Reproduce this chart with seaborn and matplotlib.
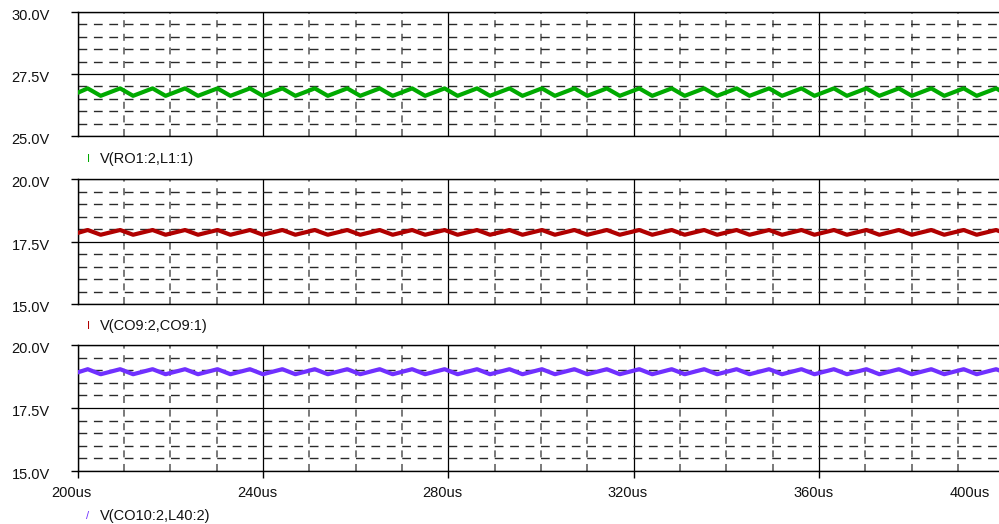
import matplotlib
matplotlib.use("Agg")
import matplotlib.pyplot as plt
import seaborn as sns
import pandas as pd
from matplotlib.ticker import MultipleLocator
from matplotlib.transforms import ScaledTranslation

# ---------------- data ----------------
time_us = [200.0, 202.2, 205.0, 209.2, 212.0, 216.2, 219.0, 223.2, 226.0, 230.2,
           233.0, 237.2, 240.0, 244.2, 247.0, 251.2, 254.0, 258.2, 261.0, 265.2,
           268.0, 272.2, 275.0, 279.2, 282.0, 286.2, 289.0, 293.2, 296.0, 300.2,
           303.0, 307.2, 310.0, 314.2, 317.0, 321.2, 324.0, 328.2, 331.0, 335.2,
           338.0, 342.2, 345.0, 349.2, 352.0, 356.2, 359.0, 363.2, 366.0, 370.2,
           373.0, 377.2, 380.0, 384.2, 387.0, 391.2, 394.0, 398.2, 401.0]

v_ro1 = [26.74, 26.92, 26.62, 26.92, 26.62, 26.92, 26.62, 26.92, 26.62, 26.92,
         26.62, 26.92, 26.62, 26.92, 26.62, 26.92, 26.62, 26.92, 26.62, 26.92,
         26.62, 26.92, 26.62, 26.92, 26.62, 26.92, 26.62, 26.92, 26.62, 26.92,
         26.62, 26.92, 26.62, 26.92, 26.62, 26.92, 26.62, 26.92, 26.62, 26.92,
         26.62, 26.92, 26.62, 26.92, 26.62, 26.92, 26.62, 26.92, 26.62, 26.92,
         26.62, 26.92, 26.62, 26.92, 26.62, 26.92, 26.62, 26.92, 26.62]

v_co9 = [17.84, 17.96, 17.77, 17.96, 17.77, 17.96, 17.77, 17.96, 17.77, 17.96,
         17.77, 17.96, 17.77, 17.96, 17.77, 17.96, 17.77, 17.96, 17.77, 17.96,
         17.77, 17.96, 17.77, 17.96, 17.77, 17.96, 17.77, 17.96, 17.77, 17.96,
         17.77, 17.96, 17.77, 17.96, 17.77, 17.96, 17.77, 17.96, 17.77, 17.96,
         17.77, 17.96, 17.77, 17.96, 17.77, 17.96, 17.77, 17.96, 17.77, 17.96,
         17.77, 17.96, 17.77, 17.96, 17.77, 17.96, 17.77, 17.96, 17.77]

v_co10 = [18.91, 19.04, 18.84, 19.04, 18.84, 19.04, 18.84, 19.04, 18.84, 19.04,
          18.84, 19.04, 18.84, 19.04, 18.84, 19.04, 18.84, 19.04, 18.84, 19.04,
          18.84, 19.04, 18.84, 19.04, 18.84, 19.04, 18.84, 19.04, 18.84, 19.04,
          18.84, 19.04, 18.84, 19.04, 18.84, 19.04, 18.84, 19.04, 18.84, 19.04,
          18.84, 19.04, 18.84, 19.04, 18.84, 19.04, 18.84, 19.04, 18.84, 19.04,
          18.84, 19.04, 18.84, 19.04, 18.84, 19.04, 18.84, 19.04, 18.84]

series_names = ["V(RO1:2,L1:1)", "V(CO9:2,CO9:1)", "V(CO10:2,L40:2)"]
series_markers = ["I", "I", "/"]
series_colors = ["#00aa00", "#b00000", "#7030ff"]

x_ticks = [200, 240, 280, 320, 360, 400]
x_tick_labels = ["200us", "240us", "280us", "320us", "360us", "400us"]

y_ticks_top = [25.0, 27.5, 30.0]
y_labels_top = ["25.0V", "27.5V", "30.0V"]
y_ticks_low = [15.0, 17.5, 20.0]
y_labels_low = ["15.0V", "17.5V", "20.0V"]

# ---------------- style ----------------
sns.set_style("white")
plt.rcParams["font.family"] = ["Liberation Sans", "DejaVu Sans"]
plt.rcParams["font.size"] = 10.5

W, H = 999, 524
fig = plt.figure(figsize=(W / 100, H / 100), dpi=100)
fig.patch.set_facecolor("white")

# pixel geometry of panels: (top, bottom)
panel_px = [(12, 136), (179, 304), (345, 471)]
left_px, right_px = 77.5, 1004.5
legend_y_px = [159, 326, 516]

all_series = [v_ro1, v_co9, v_co10]
yspecs = [(y_ticks_top, y_labels_top), (y_ticks_low, y_labels_low), (y_ticks_low, y_labels_low)]

for i, (vals, (yt, yl), (top, bot)) in enumerate(zip(all_series, yspecs, panel_px)):
    ax = fig.add_axes([left_px / W, 1 - bot / H, (right_px - left_px) / W, (bot - top) / H])
    df = pd.DataFrame({"t": time_us, "v": vals})
    sns.lineplot(data=df, x="t", y="v", ax=ax, color=series_colors[i], lw=3.0,
                 estimator=None, sort=False, zorder=5,
                 solid_joinstyle="round", solid_capstyle="round")
    ax.set_xlim(x_ticks[0], x_ticks[-1])
    ax.set_ylim(yt[0], yt[-1])
    ax.set_xlabel("")
    ax.set_ylabel("")
    ax.set_xticks(x_ticks)
    ax.set_yticks(yt)
    ax.set_yticklabels(yl)
    ax.xaxis.set_minor_locator(MultipleLocator(10))
    ax.yaxis.set_minor_locator(MultipleLocator(0.5))

    ax.grid(which="major", color="black", lw=0.9, linestyle="-", zorder=1)
    ax.grid(which="minor", axis="y", color="#2a2a2a", lw=1.0,
            linestyle=(0, (6.3, 4.8)))
    ax.grid(which="minor", axis="x", color="#555555", lw=1.1,
            linestyle=(0, (4.6, 4.3)))
    ax.set_axisbelow(True)

    for s in ["top", "left", "bottom"]:
        ax.spines[s].set_visible(True)
        ax.spines[s].set_color("black")
        ax.spines[s].set_linewidth(1.0)
    ax.spines["right"].set_visible(False)

    ax.tick_params(which="minor", length=0)
    ax.tick_params(axis="y", which="major", direction="out", length=5, width=1,
                   color="black", left=True, pad=15, labelsize=10.5, labelcolor="#111111")
    if i < 2:
        ax.tick_params(axis="x", which="major", length=0, labelbottom=False)
    else:
        ax.set_xticklabels(x_tick_labels)
        ax.tick_params(axis="x", which="major", direction="out", length=5, width=1,
                       color="black", bottom=True, pad=5.5, labelsize=10.5,
                       labelcolor="#111111")
        for j, lbl in enumerate(ax.get_xticklabels()):
            dx = -6 if j < len(x_ticks) - 1 else -34.5
            lbl.set_transform(lbl.get_transform() +
                              ScaledTranslation(dx / 100, 0, fig.dpi_scale_trans))
    for lbl in ax.get_yticklabels():
        lbl.set_transform(lbl.get_transform() +
                          ScaledTranslation(0, -2.5 / 100, fig.dpi_scale_trans))

    # series label below each panel
    ly = 1 - legend_y_px[i] / H
    fig.text(88 / W, ly, series_markers[i], color=series_colors[i], fontsize=8,
             ha="center", va="center")
    fig.text(100 / W, ly, series_names[i], color="#111111", fontsize=10.5,
             ha="left", va="center")

fig.savefig("out.png", dpi=100, facecolor="white")
